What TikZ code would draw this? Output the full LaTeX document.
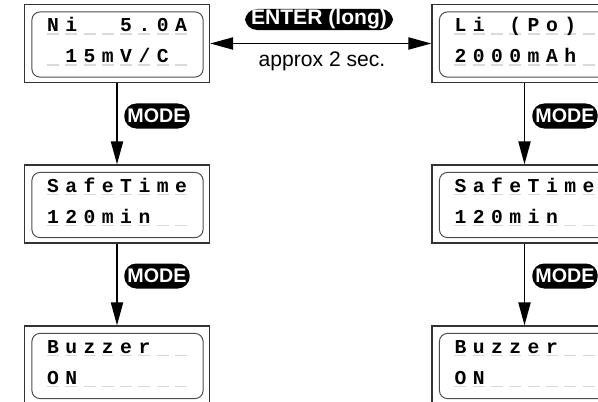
\documentclass[tikz,border=0pt]{standalone}
\usepackage{fontspec}
\newfontfamily\lcdfont{Liberation Mono}
\newfontfamily\keyfont{Liberation Sans}
\usetikzlibrary{arrows.meta}

\tikzset{
  menubox/.style={draw=black!80, line width=0.8pt, minimum width=4.625cm,
    minimum height=1.95cm, inner sep=0pt},
  lcdframe/.style={draw=black!70, line width=0.7pt, rounded corners=0.2cm},
  lcdchar/.style={anchor=base, inner sep=0pt,
    font=\lcdfont\bfseries\fontsize{14}{14}\selectfont},
  cellmark/.style={draw=black!15, line width=0.9pt},
  key/.style={fill=black, text=white, rounded corners=0.3cm, inner xsep=0.08cm,
    inner ysep=0pt, minimum height=0.625cm,
    font=\keyfont\bfseries\fontsize{14}{14}\selectfont},
  flow/.style={line width=1.4pt, -{Triangle[length=0.575cm, width=0.3cm]}},
}

% one line of the display: box, row (1 or 2), eight cells
\newcommand{\lcdrow}[3]{%
  \foreach \ch [count=\k from 0] in {#3} {
    \draw[cellmark] ([shift={({23+18.3*\k},{31*#2-1})}]#1.north west) -- ++(12,0);
    \node[lcdchar] (#1-#2-\k) at ([shift={({29+18.3*\k},{31*#2-3})}]#1.north west) {\ch};
  }}

% inner rounded frame of a display
\newcommand{\lcdframe}[1]{%
  \draw[lcdframe] ([shift={(8,8)}]#1.north west) rectangle ([shift={(-7,-6)}]#1.south east);}

\begin{document}
\begin{tikzpicture}[x=0.025cm, y=-0.025cm]
    \path[use as bounding box, clip] (0,0) rectangle (598,401);

    % ---------------------------------------------
    % left column: Ni settings
    \node[menubox] (ni) at (117, 43.5) {};
    \node[menubox] (safeL) at (117, 204) {};
    \node[menubox] (buzzL) at (117, 365) {};

    % right column: Li settings
    \node[menubox] (li) at (524.5, 43.5) {};
    \node[menubox] (safeR) at (524.5, 204) {};
    \node[menubox] (buzzR) at (524.5, 365) {};

    \foreach \b in {ni, safeL, buzzL, li, safeR, buzzR}
      \lcdframe{\b};

    % display contents
    \lcdrow{ni}{1}{N,i,{},{},5,.,0,A}
    \lcdrow{ni}{2}{{},1,5,m,V,/,C,{}}
    \lcdrow{safeL}{1}{S,a,f,e,T,i,m,e}
    \lcdrow{safeL}{2}{1,2,0,m,i,n,{},{}}
    \lcdrow{buzzL}{1}{B,u,z,z,e,r,{},{}}
    \lcdrow{buzzL}{2}{O,N,{},{},{},{},{},{}}

    \lcdrow{li}{1}{L,i,{},{(},P,o,{)},{}}
    \lcdrow{li}{2}{2,0,0,0,m,A,h,{}}
    \lcdrow{safeR}{1}{S,a,f,e,T,i,m,e}
    \lcdrow{safeR}{2}{1,2,0,m,i,n,{},{}}
    \lcdrow{buzzR}{1}{B,u,z,z,e,r,{},{}}
    \lcdrow{buzzR}{2}{O,N,{},{},{},{},{},{}}

    % switching between the two modes
    \draw[flow, {Triangle[length=0.575cm, width=0.3cm]}-{Triangle[length=0.575cm, width=0.3cm]}]
      (ni.east) -- (li.west);
    \node[key, minimum height=0.525cm, inner xsep=0.15cm,
      font=\keyfont\bfseries\fontsize{15}{15}\selectfont] (enter) at (319, 19.5) {ENTER (long)};
    \node[font=\keyfont\fontsize{15}{15}\selectfont] (approx) at (322, 61) {approx 2 sec.};

    % stepping through the menu
    \draw[flow] (ni) -- (safeL);
    \draw[flow] (safeL) -- (buzzL);
    \draw[flow] (li) -- (safeR);
    \draw[flow] (safeR) -- (buzzR);
    \node[key] (modeL1) at (157, 116) {MODE};
    \node[key] (modeL2) at (157, 276) {MODE};
    \node[key] (modeR1) at (565, 116) {MODE};
    \node[key] (modeR2) at (565, 276) {MODE};

  \end{tikzpicture}
\end{document}
